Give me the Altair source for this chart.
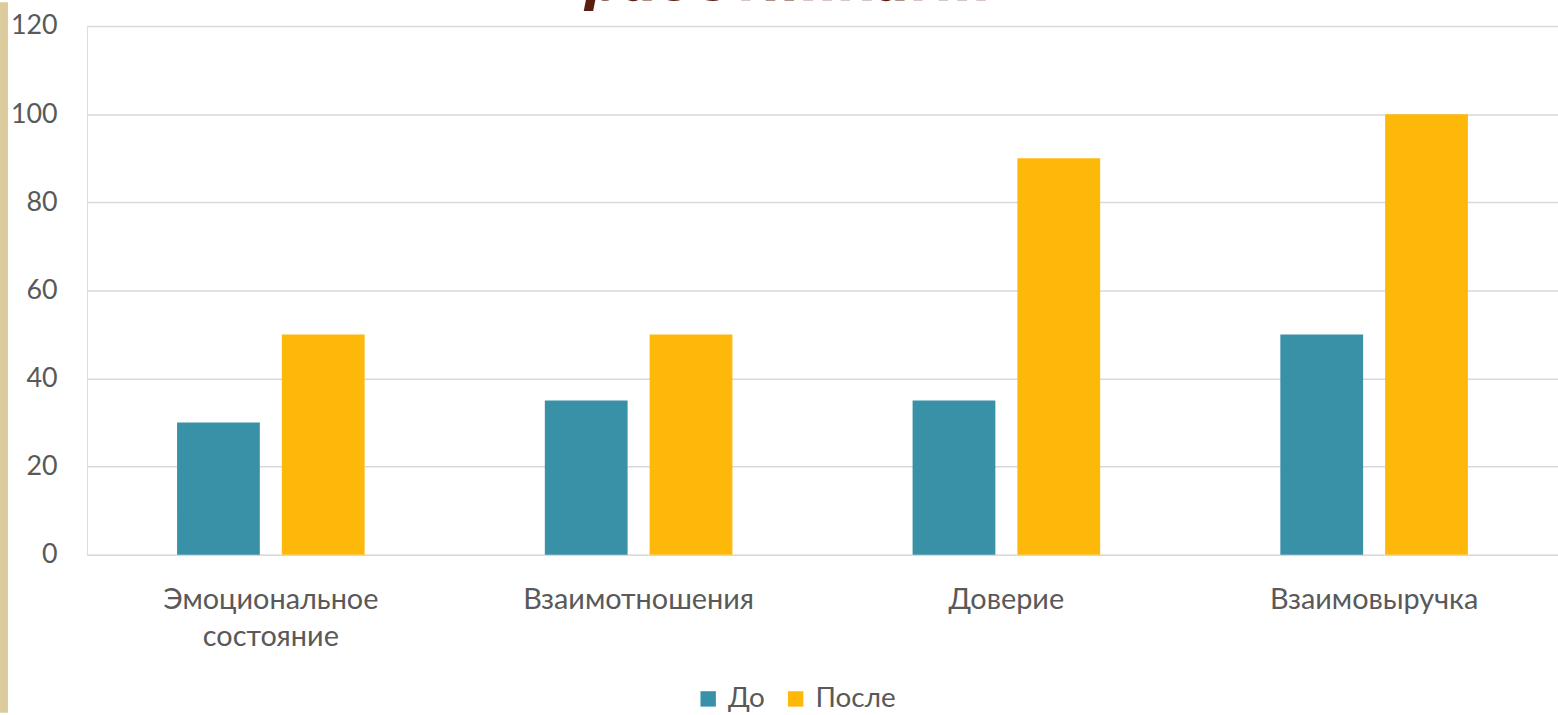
import altair as alt
import pandas as pd

categories = ["Эмоциональное\nсостояние", "Взаимотношения", "Доверие", "Взаимовыручка"]
series = ["До", "После"]
values_before = [30, 35, 35, 50]
values_after = [50, 50, 90, 100]
colors = ["#3891A7", "#FEB80A"]
y_ticks = [0, 20, 40, 60, 80, 100, 120]

rows = []
for c, b, a in zip(categories, values_before, values_after):
    rows.append({"cat": c, "series": "До", "value": b})
    rows.append({"cat": c, "series": "После", "value": a})
df = pd.DataFrame(rows)

FONT = "Lato"

bars = alt.Chart(df).mark_bar().encode(
    x=alt.X("cat:N", sort=categories, title=None,
            scale=alt.Scale(paddingInner=0.49, paddingOuter=0.245),
            axis=alt.Axis(labelAngle=0, labelFont=FONT, labelFontSize=29, labelColor="#595959",
                          labelPadding=31, labelLineHeight=37, ticks=False, domain=False,
                          labelExpr="split(datum.label, '\\n')", labelLimit=500)),
    xOffset=alt.XOffset("series:N", sort=series, scale=alt.Scale(paddingInner=0.21)),
    y=alt.Y("value:Q", title=None,
            scale=alt.Scale(domain=[0, 120], nice=False),
            axis=alt.Axis(values=y_ticks, labelFont=FONT, labelFontSize=27, labelColor="#595959",
                          labelPadding=30, ticks=False, domain=False,
                          gridColor="#d9d9d9", gridWidth=1.5)),
    color=alt.Color("series:N", sort=series,
                    scale=alt.Scale(domain=series, range=colors),
                    legend=alt.Legend(title=None, orient="none", direction="horizontal",
                                      legendX=611, legendY=663, labelFont=FONT, labelFontSize=28,
                                      labelColor="#595959", symbolType="square", symbolSize=240,
                                      symbolStrokeWidth=0, columnPadding=16, labelOffset=6)),
)

title_df = pd.DataFrame({"t": ["работниками"]})
title = alt.Chart(title_df).mark_text(
    font="DejaVu Sans", fontSize=54, fontWeight="bold", fontStyle="italic",
    color="#5a1e10", baseline="alphabetic", align="center"
).encode(text="t:N", x=alt.value(706), y=alt.value(-26))

strip_df = pd.DataFrame({"a": [1]})
strip = alt.Chart(strip_df).mark_rect(color="#dccb9c").encode(
    x=alt.value(-87.5), x2=alt.value(-79.5), y=alt.value(-24), y2=alt.value(691)
)

chart = alt.layer(strip, bars, title).properties(
    width=1480, height=532,
    autosize=alt.AutoSizeParams(type="none"),
    padding={"left": 87.5, "top": 24, "right": 0, "bottom": 159},
).configure_view(stroke=None).configure(background="white")

chart.save("out.html", embed_options={"renderer": "svg", "actions": False})
